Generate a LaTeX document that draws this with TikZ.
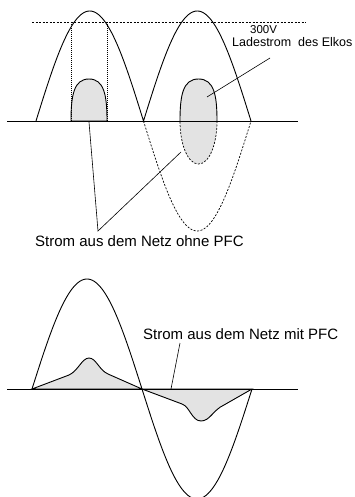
\documentclass[tikz,border=0pt]{standalone}
\usepackage{fontspec}
\setmainfont{Liberation Sans}
\usetikzlibrary{positioning}

\begin{document}
\begin{tikzpicture}[x=1pt,y=-1pt]
  \tikzstyle{wave}=[line width=0.9pt]
  \tikzstyle{ghost}=[line width=0.7pt,dash pattern=on 2pt off 1.5pt]
  \tikzstyle{guide}=[line width=0.7pt,dash pattern=on 1pt off 1pt]
  \tikzstyle{pulse}=[fill=black!11,line width=0.9pt]
  \tikzstyle{lbl}=[inner sep=0pt,anchor=base west]
  \tikzstyle{ptr}=[line width=0.6pt]
  \useasboundingbox (0,0) rectangle (355,497);
  % --- ohne PFC ---
  \fill[black!11] (180,121) .. controls (180,95) and (183,79) .. (198.5,79)
    .. controls (214,79) and (217,95) .. (217,121)
    .. controls (217,145) and (209,164) .. (198.5,164)
    .. controls (188,164) and (180,145) .. (180,121);
  \draw[pulse] (71,121) .. controls (71,95) and (74,79) .. (89,79)
    .. controls (104,79) and (107,95) .. (107,121) -- cycle;
  \draw[wave] (180,121) .. controls (180,95) and (183,79) .. (198.5,79)
    .. controls (214,79) and (217,95) .. (217,121);
  \draw[ghost] (217,121) .. controls (217,145) and (209,164) .. (198.5,164)
    .. controls (188,164) and (180,145) .. (180,121);
  \draw[wave] (7,121) -- (298,121);
  \draw[ghost] (32,22) -- (306,22);
  \draw[guide] (71,22) -- (71,121);
  \draw[guide] (107,22) -- (107,121);
  \draw[wave] plot[domain=36:251,samples=121] (\x,{121-110*abs(sin((\x-36)/107.5*180))});
  \draw[ghost] plot[domain=143.5:251,samples=61] (\x,{121+110*sin((\x-143.5)/107.5*180)});
  \node[lbl,font=\fontsize{11.5}{13}\selectfont] (volt) at (250,34) {300V};
  \node[lbl,font=\fontsize{12.5}{14}\selectfont] (elko) at (232,47) {Ladestrom\ \ des Elkos};
  \node[lbl,font=\fontsize{15}{17}\selectfont] (ohne) at (35,246) {Strom aus dem Netz ohne PFC};
  \coordinate (e0) at (270,58);
  \coordinate (e1) at (207,97);
  \coordinate (o0) at (98,231);
  \coordinate (o1) at (89,122);
  \coordinate (o2) at (181,152);
  \draw[ptr] (e0) -- (e1);
  \draw[ptr] (o1) -- (o0) -- (o2);
  % --- mit PFC ---
  \draw[pulse] (32,389) -- (69,375) .. controls (78,371) and (82,358) .. (89,358)
    .. controls (96,358) and (99,370) .. (108,374) -- (142,389) -- cycle;
  \draw[pulse] (142,389) -- (182,404) .. controls (190,407) and (192,421) .. (201,421)
    .. controls (210,421) and (213,410) .. (224,405) -- (252,389) -- cycle;
  \draw[wave] (7,389) -- (298,389);
  \draw[wave] plot[domain=32:252,samples=121] (\x,{389-110*sin((\x-32)/110*180)});
  \node[lbl,font=\fontsize{15}{17}\selectfont] (mit) at (143,339) {Strom aus dem Netz mit PFC};
  \coordinate (m0) at (180,343);
  \coordinate (m1) at (171,389);
  \draw[ptr] (m0) -- (m1);
\end{tikzpicture}
\end{document}
